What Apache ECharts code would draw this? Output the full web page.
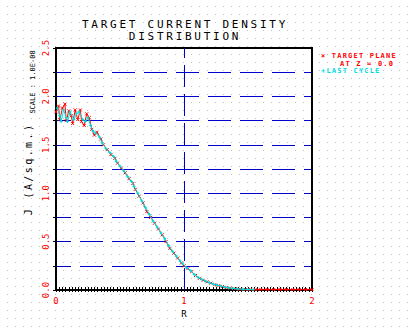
<!DOCTYPE html>
<html>
<head>
<meta charset="utf-8">
<script src="https://cdn.jsdelivr.net/npm/echarts@6/dist/echarts.min.js"></script>
<style>
  html, body { margin: 0; padding: 0; background: #fff; }
  #chart {
    width: 408px; height: 332px; background-color: #fff;
    background-image: url("data:image/svg+xml,%3Csvg xmlns='http://www.w3.org/2000/svg' width='8' height='8'%3E%3Crect x='7' y='6' width='1' height='1' fill='%23bdbdbd'/%3E%3C/svg%3E");
    background-size: 8px 8px;
  }
  /* plotter-style wide lettering */
  #chart text[fill="#000001"], #chart text[style*="000001"] { letter-spacing: 2.75px; }
  #chart text[fill="#000002"], #chart text[style*="000002"] { letter-spacing: 2.4px; }
  #chart text[fill="#ff0001"], #chart text[style*="ff0001"],
  #chart text[fill="#00dddd"], #chart text[style*="00dddd"] { letter-spacing: 1.2px; }
</style>
</head>
<body>
<div id="chart"></div>
<script>
// Radial profile at the target plane (Z = 0.0)
const rTarget = [0.00, 0.02, 0.03, 0.05, 0.07, 0.08, 0.10, 0.12, 0.13, 0.15, 0.17, 0.19, 0.20, 0.22, 0.24, 0.26, 0.28,
  0.30, 0.32, 0.35, 0.37, 0.40, 0.43, 0.46, 0.48, 0.51, 0.54, 0.57, 0.60, 0.62, 0.65, 0.68, 0.71, 0.74, 0.77,
  0.80, 0.83, 0.86, 0.89, 0.92, 0.95, 0.98, 1.00, 1.03, 1.06, 1.09, 1.12, 1.15, 1.18, 1.21, 1.24, 1.27, 1.30,
  1.33, 1.36, 1.40, 1.44, 1.48, 1.52, 1.56, 1.60, 1.65, 1.70, 1.75, 1.80, 1.85, 1.90, 1.95, 2.00];
const jTarget = [1.84, 1.90, 1.76, 1.88, 1.92, 1.75, 1.85, 1.80, 1.72, 1.86, 1.76, 1.86, 1.74, 1.70, 1.82, 1.78, 1.66,
  1.60, 1.63, 1.56, 1.50, 1.45, 1.40, 1.36, 1.31, 1.26, 1.21, 1.15, 1.10, 1.04, 0.97, 0.90, 0.81, 0.75, 0.69,
  0.63, 0.57, 0.50, 0.43, 0.38, 0.33, 0.28, 0.25, 0.22, 0.19, 0.15, 0.12, 0.10, 0.085, 0.07, 0.055, 0.045, 0.035,
  0.025, 0.02, 0.012, 0.008, 0.005, 0.006, 0.004, 0.006, 0.005, 0.004, 0.006, 0.004, 0.005, 0.004, 0.005, 0.004];

// Same profile on the last iteration cycle
const rLast = [0.01, 0.03, 0.04, 0.06, 0.08, 0.09, 0.11, 0.14, 0.16, 0.18, 0.21, 0.23, 0.25, 0.27, 0.29, 0.31, 0.34,
  0.36, 0.39, 0.42, 0.45, 0.47, 0.50, 0.53, 0.56, 0.59, 0.61, 0.64, 0.67, 0.70, 0.73, 0.76, 0.79, 0.82, 0.85,
  0.88, 0.91, 0.94, 0.97, 0.99, 1.02, 1.05, 1.08, 1.11, 1.14, 1.17, 1.20, 1.23, 1.26, 1.29, 1.32, 1.35, 1.38,
  1.42, 1.46, 1.50, 1.54];
const jLast = [1.88, 1.80, 1.74, 1.86, 1.78, 1.74, 1.84, 1.76, 1.82, 1.84, 1.76, 1.74, 1.78, 1.70, 1.64, 1.62, 1.58,
  1.52, 1.46, 1.42, 1.38, 1.33, 1.28, 1.23, 1.17, 1.12, 1.07, 1.00, 0.92, 0.85, 0.78, 0.71, 0.65, 0.59, 0.53,
  0.46, 0.40, 0.35, 0.30, 0.27, 0.23, 0.20, 0.16, 0.13, 0.11, 0.09, 0.075, 0.06, 0.05, 0.04, 0.03, 0.022, 0.016,
  0.011, 0.008, 0.006, 0.005];

const xTickLabels = ['0', '1', '2'];
const yTickLabels = ['0.0', '0.5', '1.0', '1.5', '2.0', '2.5'];

const MONO = '"DejaVu Sans Mono", monospace';
const RED = '#ff0000';
const CYAN = '#00dddd';
const BLUE = '#0000cc';
const INK = '#000000';

const chart = echarts.init(document.getElementById('chart'), null, { renderer: 'svg' });

chart.setOption({
  animation: false,
  title: {
    text: 'TARGET CURRENT DENSITY\nDISTRIBUTION',
    left: 185, top: 18.5, padding: 0, textAlign: 'center',
    textStyle: { color: '#000001', fontFamily: MONO, fontSize: 11, fontWeight: 'normal', lineHeight: 12 }
  },
  grid: { left: 56, right: 96, top: 48, bottom: 42, show: true, borderColor: INK, borderWidth: 2, z: 1 },
  xAxis: [{
    type: 'value', min: 0, max: 2, interval: 1, position: 'bottom',
    axisLine: { lineStyle: { color: INK, width: 2 } },
    axisTick: { show: true, length: 2, lineStyle: { color: INK } },
    minorTick: { show: true, splitNumber: 40, length: 2, lineStyle: { color: INK } },
    splitLine: { show: false },
    axisLabel: { color: RED, fontFamily: MONO, fontSize: 9, margin: 6,
      formatter: v => xTickLabels[Math.round(v)] },
    name: 'R', nameLocation: 'middle', nameGap: 18,
    nameTextStyle: { color: INK, fontFamily: MONO, fontSize: 9 }
  }, {
    type: 'value', min: 0, max: 2, interval: 1, position: 'bottom',
    axisLine: { show: false },
    axisTick: { show: true, inside: true, length: 3, lineStyle: { color: INK } },
    minorTick: { show: true, splitNumber: 40, length: 3, lineStyle: { color: INK } },
    splitLine: { show: false },
    axisLabel: { show: false }
  }],
  yAxis: {
    type: 'value', min: 0, max: 2.5, interval: 0.25,
    axisLine: { show: true, lineStyle: { color: INK, width: 2 } },
    axisTick: { show: true, length: 3, lineStyle: { color: INK } },
    splitLine: { show: true, lineStyle: { color: BLUE, width: 1, type: [23, 9], dashOffset: 8 } },
    axisLabel: { rotate: 90, color: RED, fontFamily: MONO, fontSize: 9, margin: 6,
      formatter: v => { const k = Math.round(v * 4); return k % 2 === 0 ? yTickLabels[k / 2] : ''; } },
    name: 'J (A/sq.m.)', nameLocation: 'middle', nameGap: 23, nameRotate: 90,
    nameTextStyle: { color: '#000002', fontFamily: MONO, fontSize: 10 }
  },
  series: [{
    name: 'TARGET PLANE AT Z = 0.0', type: 'line', z: 3,
    data: rTarget.map((r, i) => [r, jTarget[i]]),
    symbol: 'path://M0,0L8,8M8,0L0,8', symbolSize: 3,
    lineStyle: { color: RED, width: 1 },
    itemStyle: { color: RED, borderColor: RED, borderWidth: 1 },
    emphasis: { disabled: true },
    markLine: {
      silent: true, symbol: 'none', label: { show: false }, animation: false,
      lineStyle: { color: BLUE, width: 1, type: [22, 7] },
      data: [{ xAxis: 1 }]
    }
  }, {
    name: 'LAST CYCLE', type: 'line', z: 4,
    data: rLast.map((r, i) => [r, jLast[i]]),
    symbol: 'path://M4,0L4,8M0,4L8,4', symbolSize: 3,
    lineStyle: { color: CYAN, width: 1 },
    itemStyle: { color: CYAN, borderColor: CYAN, borderWidth: 1 },
    emphasis: { disabled: true }
  }],
  graphic: [
    { type: 'text', x: 33, y: 82, rotation: Math.PI / 2, silent: true,
      style: { text: 'SCALE : 1.0E-08', fill: INK, font: '7px ' + MONO, align: 'center', verticalAlign: 'middle' } },
    { type: 'text', x: 321, y: 56, silent: true,
      style: { text: '× TARGET PLANE', fill: '#ff0001', font: 'bold 7px ' + MONO, align: 'left', verticalAlign: 'middle' } },
    { type: 'text', x: 340, y: 63.5, silent: true,
      style: { text: 'AT Z = 0.0', fill: '#ff0001', font: 'bold 7px ' + MONO, align: 'left', verticalAlign: 'middle' } },
    { type: 'text', x: 321, y: 71, silent: true,
      style: { text: '+LAST CYCLE', fill: CYAN, font: 'bold 7px ' + MONO, align: 'left', verticalAlign: 'middle' } }
  ]
});
</script>
</body>
</html>
